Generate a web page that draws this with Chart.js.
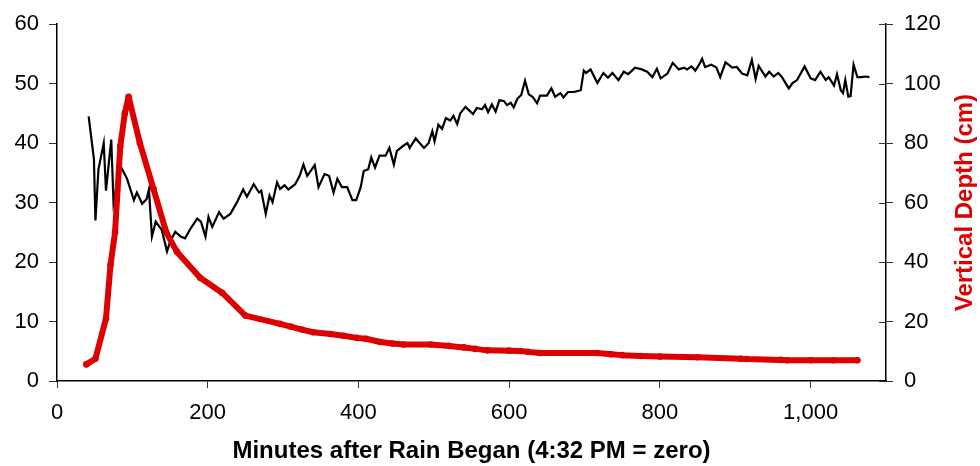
<!DOCTYPE html>
<html>
<head>
<meta charset="utf-8">
<script src="https://cdn.jsdelivr.net/npm/chart.js@4.4.1/dist/chart.umd.min.js"></script>
<style>
  html, body { margin: 0; padding: 0; background: #fff; }
</style>
</head>
<body>
<canvas id="chart" width="980" height="466"></canvas>
<script>
// black trace, read against the left axis
const flowMinutes = [42, 49, 51, 55, 62, 65, 72, 75, 84, 93, 102, 106, 113, 119, 122, 126, 131, 139, 146, 150,
  157, 164, 170, 177, 186, 191, 197, 201, 206, 215, 221, 230, 239, 247, 252, 261, 268, 271, 277, 282,
  286, 292, 296, 302, 307, 316, 322, 327, 332, 342, 347, 355, 361, 367, 372, 378, 385, 392, 397, 403,
  407, 413, 417, 422, 428, 436, 441, 447, 451, 460, 465, 468, 476, 480, 487, 493, 498, 501, 506, 511,
  516, 522, 526, 531, 535, 542, 552, 557, 564, 568, 572, 577, 582, 587, 593, 597, 602, 606, 611, 616,
  621, 626, 631, 637, 641, 650, 656, 661, 668, 672, 678, 686, 695, 699, 702, 708, 717, 725, 731, 737,
  745, 752, 758, 767, 776, 783, 790, 796, 801, 810, 817, 825, 832, 836, 842, 847, 852, 856, 860, 868,
  875, 880, 887, 896, 902, 909, 916, 922, 927, 931, 940, 945, 951, 957, 962, 971, 976, 982, 992, 1000,
  1006, 1013, 1020, 1024, 1031, 1035, 1040, 1043, 1046, 1050, 1053, 1057, 1062, 1067, 1073, 1078];
const flowValues = [44.5, 37.3, 27.0, 35.6, 40.0, 32.0, 40.6, 30.0, 36.2, 34.0, 30.4, 31.7, 29.8, 30.6, 32.2, 24.3, 26.8, 25.4, 21.8, 23.4,
  25.1, 24.3, 24.0, 25.6, 27.3, 26.8, 24.3, 27.6, 25.9, 28.4, 27.3, 28.1, 30.1, 32.2, 31.0, 33.1, 31.7, 32.0, 28.1, 31.2,
  30.1, 33.4, 32.3, 32.9, 32.2, 33.1, 34.5, 36.4, 34.5, 36.3, 32.6, 34.8, 34.5, 31.7, 34.0, 32.6, 32.6, 30.4, 30.4, 32.6,
  35.3, 35.6, 37.6, 35.9, 37.9, 37.9, 39.2, 36.4, 38.7, 39.6, 40.0, 39.2, 40.8, 40.2, 39.2, 40.0, 42.0, 40.3, 43.1, 42.4,
  44.2, 43.8, 44.6, 43.2, 45.0, 46.1, 44.9, 45.9, 45.7, 46.4, 45.2, 46.5, 45.3, 47.2, 47.1, 46.4, 46.8, 46.0, 47.5, 48.1,
  50.5, 48.2, 47.8, 46.7, 48.0, 48.0, 49.2, 47.8, 48.4, 47.7, 48.6, 48.6, 48.9, 52.2, 51.8, 52.4, 50.1, 51.8, 51.0, 51.8,
  50.6, 52.0, 51.6, 52.7, 52.4, 52.0, 51.1, 52.5, 50.9, 51.7, 53.5, 52.4, 52.7, 52.4, 52.9, 52.2, 53.2, 54.2, 52.8, 53.2,
  52.7, 51.1, 53.6, 52.7, 52.8, 51.7, 51.4, 54.0, 50.8, 53.0, 51.2, 52.0, 51.2, 51.8, 51.1, 49.2, 50.1, 50.6, 52.9, 50.9,
  50.6, 52.0, 50.6, 51.1, 49.7, 51.6, 48.9, 48.4, 50.6, 47.8, 47.9, 53.2, 51.1, 51.1, 51.2, 51.1];

// red trace, vertical depth in cm (right axis)
const depthMinutes = [39, 51, 65, 71, 77, 84, 90, 95, 110, 128, 145, 159, 190, 219, 250, 296, 310, 325, 340, 363,
  380, 398, 410, 429, 445, 460, 496, 520, 540, 555, 571, 600, 615, 625, 641, 717, 735, 750, 775, 800,
  850, 907, 915, 960, 969, 1000, 1030, 1062];
const depthValues = [5.6, 7.5, 21, 39, 50, 79, 90, 95.6, 80, 64.6, 50, 43.5, 34.7, 29.7, 22, 19.2, 18.3, 17.3, 16.4, 15.8,
  15.2, 14.5, 14.2, 13.1, 12.6, 12.3, 12.3, 11.8, 11.3, 10.8, 10.3, 10.2, 10.1, 9.8, 9.4, 9.4, 9.0, 8.7, 8.4, 8.2,
  8.0, 7.5, 7.4, 7.1, 7.0, 7.0, 7.0, 7.0];

const xTitle = 'Minutes after Rain Began (4:32 PM = zero)';
const y2Title = 'Vertical Depth (cm)';

const RED = '#dd0000';
const FONT = "'Liberation Sans', Arial, sans-serif";

// right axis: ticks cross the axis line, title reads bottom to top
const rightAxisExtras = {
  id: 'rightAxisExtras',
  afterDraw(chart) {
    const s = chart.scales.y2;
    const ctx = chart.ctx;
    ctx.save();
    ctx.strokeStyle = '#333';
    ctx.lineWidth = 1;
    s.ticks.forEach(t => {
      const y = Math.round(s.getPixelForValue(t.value)) + 0.5;
      ctx.beginPath();
      ctx.moveTo(s.left - 7, y);
      ctx.lineTo(s.left, y);
      ctx.stroke();
    });
    const area = chart.chartArea;
    ctx.translate(965, (area.top + area.bottom) / 2);
    ctx.rotate(-Math.PI / 2);
    ctx.fillStyle = RED;
    ctx.font = 'bold 24px ' + FONT;
    ctx.textAlign = 'center';
    ctx.textBaseline = 'middle';
    ctx.fillText(y2Title, 0, 0);
    ctx.restore();
  }
};

const ctx = document.getElementById('chart').getContext('2d');
new Chart(ctx, {
  type: 'line',
  data: {
    datasets: [
      {
        data: depthMinutes.map((m, i) => ({ x: m, y: depthValues[i] })),
        yAxisID: 'y2',
        borderColor: RED,
        backgroundColor: RED,
        borderWidth: 6,
        borderJoinStyle: 'round',
        borderCapStyle: 'round',
        pointRadius: 3.3,
        pointBorderWidth: 0,
        tension: 0,
        order: 0
      },
      {
        data: flowMinutes.map((m, i) => ({ x: m, y: flowValues[i] })),
        yAxisID: 'y',
        borderColor: '#000',
        borderWidth: 2.2,
        pointRadius: 0,
        tension: 0,
        order: 1
      }
    ]
  },
  options: {
    responsive: false,
    animation: false,
    devicePixelRatio: 1,
    layout: { padding: { top: 20, left: 0, right: 0, bottom: 0 } },
    plugins: { legend: { display: false }, tooltip: { enabled: false } },
    scales: {
      x: {
        type: 'linear',
        min: 0,
        max: 1100,
        afterFit: s => { s.height = 85; },
        border: { display: true, color: '#000', width: 1.5 },
        grid: { display: true, drawOnChartArea: false, drawTicks: true, tickLength: 7, color: '#333' },
        ticks: {
          stepSize: 200,
          includeBounds: false,
          padding: 12,
          color: '#000',
          font: { family: FONT, size: 22 },
          maxRotation: 0,
          callback: v => v.toLocaleString('en-US')
        },
        title: {
          display: true,
          text: xTitle,
          color: '#000',
          font: { family: FONT, size: 24, weight: 'bold' },
          padding: { top: 0, bottom: 0 }
        }
      },
      y: {
        position: 'left',
        min: 0,
        max: 60,
        afterFit: s => { s.width = 57; },
        border: { display: true, color: '#000', width: 1.5 },
        grid: { display: true, drawOnChartArea: false, drawTicks: true, tickLength: 8, color: '#333' },
        ticks: {
          stepSize: 10,
          padding: 10,
          color: '#000',
          font: { family: FONT, size: 22 }
        }
      },
      y2: {
        position: 'right',
        min: 0,
        max: 120,
        afterFit: s => { s.width = 94; },
        border: { display: true, color: '#000', width: 1.5 },
        grid: { display: true, drawOnChartArea: false, drawTicks: true, tickLength: 7, color: '#333' },
        ticks: {
          stepSize: 20,
          padding: 11,
          color: '#000',
          font: { family: FONT, size: 22 }
        }
      }
    }
  },
  plugins: [rightAxisExtras]
});
</script>
</body>
</html>
